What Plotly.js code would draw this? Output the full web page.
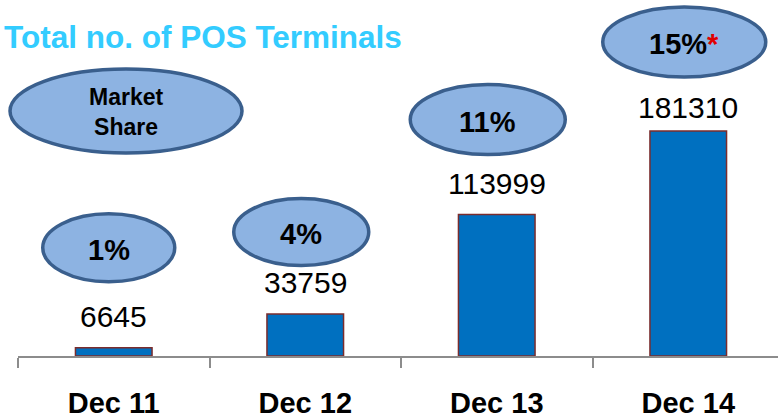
<!DOCTYPE html>
<html>
<head>
<meta charset="utf-8">
<script src="https://cdn.plot.ly/plotly-3.0.1.min.js"></script>
<style>
  html, body { margin: 0; padding: 0; background: #fff; }
  #chart { width: 778px; height: 419px; }
</style>
</head>
<body>
<div id="chart"></div>
<script>
document.addEventListener("DOMContentLoaded", function() {
    var periods   = ["Dec 11", "Dec 12", "Dec 13", "Dec 14"];
    var terminals = [6645, 33759, 113999, 181310];
    var shares    = ["1%", "4%", "11%", "15%"];
    var notes     = ["", "", "", "*"];

    // oval placement relative to top of each bar (pixels): dx, dy up, width, height
    var ovals = [
        { dx: -5,  dy: 100, w: 132, h: 68 },
        { dx: -4,  dy: 82,  w: 135, h: 67 },
        { dx: -9,  dy: 95,  w: 155, h: 70 },
        { dx: -4,  dy: 89,  w: 163, h: 70 }
    ];
    var labelLift = [13, 13, 13, 5];

    var font = "Liberation Sans, Arial, sans-serif";
    var ovalFill = "#8DB3E2", ovalLine = "#3A5F8D";

    // plot area: left 18px, bottom at y=356 of 419
    var L = 18, W = 760, B = 356;
    function px(x) { return (x - L) / W; }
    function py(y) { return (B - y) / B; }

    var shapes = [];
    var annotations = [];

    periods.forEach(function(p, i) {
        var o = ovals[i];
        shapes.push({
            type: "circle", layer: "above",
            xref: "x", xsizemode: "pixel", xanchor: i,
            yref: "y", ysizemode: "pixel", yanchor: terminals[i],
            x0: o.dx - o.w / 2, x1: o.dx + o.w / 2,
            y0: o.dy - o.h / 2, y1: o.dy + o.h / 2,
            fillcolor: ovalFill,
            line: { color: ovalLine, width: 3.5 }
        });
        var txt = "<b>" + shares[i] + "</b>";
        if (notes[i]) txt += "<b><span style='color:#E00000'>" + notes[i] + "</span></b>";
        annotations.push({
            x: i, y: terminals[i], xref: "x", yref: "y",
            xanchor: "center", yanchor: "middle",
            xshift: o.dx, yshift: o.dy - 2,
            text: txt, showarrow: false,
            font: { family: font, size: 29, color: "#000" }
        });
        annotations.push({
            x: i, y: terminals[i], xref: "x", yref: "y",
            xanchor: "center", yanchor: "bottom", yshift: labelLift[i],
            text: String(terminals[i]), showarrow: false,
            font: { family: font, size: 30, color: "#000" }
        });
    });

    // "Market Share" legend oval
    shapes.push({
        type: "circle", layer: "above", xref: "paper", yref: "paper",
        x0: px(10), x1: px(242), y0: py(153), y1: py(69),
        fillcolor: ovalFill, line: { color: ovalLine, width: 3.5 }
    });
    annotations.push({
        xref: "paper", yref: "paper", x: px(126), y: py(112),
        xanchor: "center", yanchor: "middle",
        text: "<b>Market<br>Share</b>", showarrow: false,
        font: { family: font, size: 23, color: "#000" }
    });

    var trace = {
        type: "bar",
        x: periods,
        y: terminals,
        width: 0.4,
        marker: { color: "#0070C0", line: { color: "#7B2C2C", width: 1.5 } },
        hoverinfo: "skip"
    };

    var layout = {
        width: 778, height: 419,
        margin: { l: L, r: 0, t: 0, b: 419 - B },
        paper_bgcolor: "#fff", plot_bgcolor: "#fff",
        showlegend: false,
        title: {
            text: "<b>Total no. of POS Terminals</b>",
            x: 4 / 778, xref: "container", xanchor: "left",
            y: 1 - 37 / 419, yref: "container", yanchor: "middle",
            font: { family: font, size: 31.5, color: "#33CCFF" }
        },
        xaxis: {
            type: "category",
            range: [-0.5, -0.5 + W / 191.5],
            tickson: "boundaries",
            ticks: "outside", ticklen: 10, tickwidth: 2, tickcolor: "#8C8C8C",
            showline: true, linecolor: "#8C8C8C", linewidth: 2,
            showgrid: false, zeroline: false,
            tickfont: { family: font, size: 29, color: "#000", weight: "bold" },
            ticklabelstandoff: 20
        },
        yaxis: {
            range: [0, 286900],
            showticklabels: false, showgrid: false, zeroline: false, showline: false, ticks: ""
        },
        shapes: shapes,
        annotations: annotations
    };

    Plotly.newPlot("chart", [trace], layout, { displayModeBar: false, staticPlot: true });
});
</script>
</body>
</html>
